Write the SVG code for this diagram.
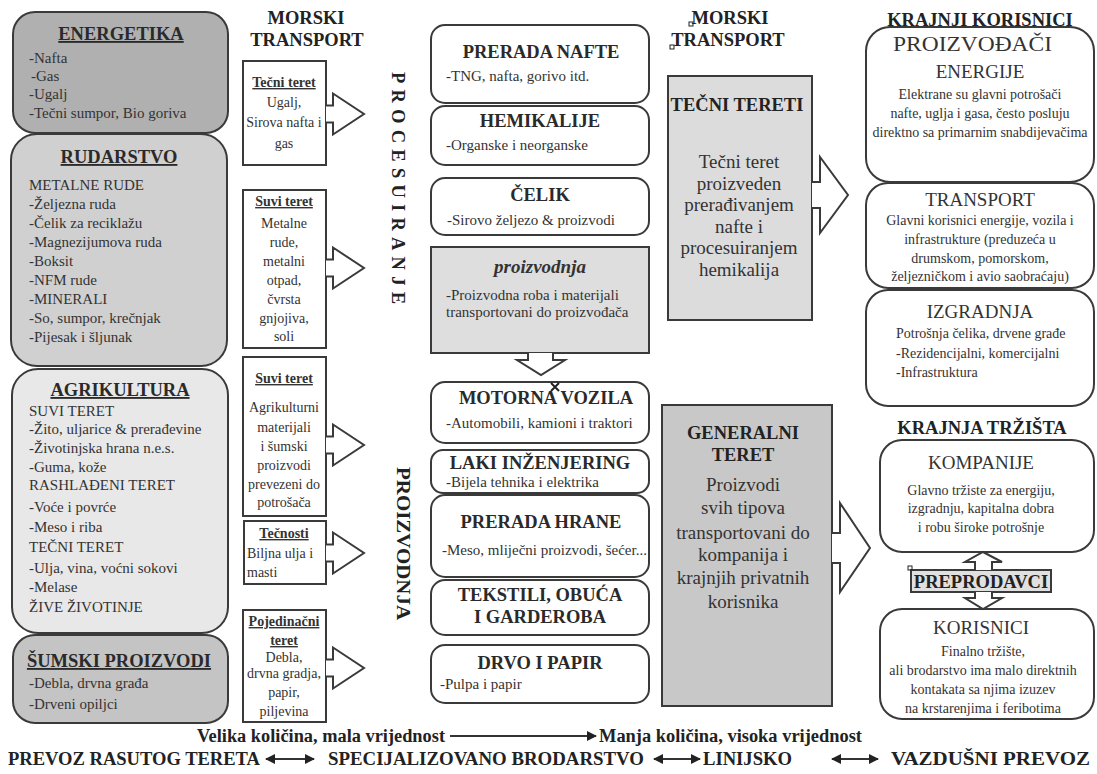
<svg xmlns="http://www.w3.org/2000/svg" width="1097" height="774" viewBox="0 0 1097 774" font-family="'Liberation Serif', 'DejaVu Serif', serif">
<style>
text{font-family:'Liberation Serif','DejaVu Serif',serif;fill:#333}
.box{stroke:#3a3a3a;stroke-width:2}
.t{font-weight:bold;font-size:18.5px;text-anchor:middle;fill:#2a2a2a}
.u{text-decoration:underline}
.i{font-size:15px}
.s{font-size:14px}
.c{text-anchor:middle}
.r{font-size:19px;text-anchor:middle}
.b{font-size:19px;text-anchor:middle}
.h{font-weight:bold;font-size:18.5px;fill:#222}
.arr{fill:#fff;stroke:#3a3a3a;stroke-width:2;stroke-linejoin:miter}
.ln{stroke:#333;stroke-width:2;fill:none}
</style>
<defs>
<path id="a1" d="M0,-8.5 H7 V-20.5 L38,0 L7,20.5 V8.5 H0"/>
<marker id="mh" viewBox="0 0 10 10" refX="9" refY="5" markerWidth="5" markerHeight="5" orient="auto-start-reverse"><path d="M0,0 L10,5 L0,10 z" fill="#222"/></marker>
</defs>
<rect width="1097" height="774" fill="#fff"/>

<g id="energetika">
<rect class="box" x="13" y="12" width="215" height="121" rx="22" fill="#b0b0b0"/>
<text class="t u" x="121" y="40">ENERGETIKA</text>
<text class="i" x="29" y="63">-Nafta</text>
<text class="i" x="31" y="81">-Gas</text>
<text class="i" x="29" y="99">-Ugalj</text>
<text class="i" x="29" y="118">-Tečni sumpor, Bio goriva</text>
</g>
<g id="rudarstvo">
<rect class="box" x="11" y="134" width="216" height="232" rx="26" fill="#d0d0d0"/>
<text class="t u" x="119" y="163">RUDARSTVO</text>
<text class="i" x="29" y="190">METALNE RUDE</text>
<text class="i" x="29" y="209">-Željezna ruda</text>
<text class="i" x="29" y="228">-Čelik za reciklažu</text>
<text class="i" x="29" y="247">-Magnezijumova ruda</text>
<text class="i" x="29" y="266">-Boksit</text>
<text class="i" x="29" y="285">-NFM rude</text>
<text class="i" x="29" y="304">-MINERALI</text>
<text class="i" x="29" y="323">-So, sumpor, krečnjak</text>
<text class="i" x="29" y="342">-Pijesak i šljunak</text>
</g>
<g id="agrikultura">
<rect class="box" x="12" y="369" width="216" height="264" rx="26" fill="#e8e8e8"/>
<text class="t u" x="120" y="396">AGRIKULTURA</text>
<text class="i" x="29" y="416">SUVI TERET</text>
<text class="i" x="29" y="434">-Žito, uljarice &amp; prerađevine</text>
<text class="i" x="29" y="453">-Životinjska hrana n.e.s.</text>
<text class="i" x="29" y="472">-Guma, kože</text>
<text class="i" x="29" y="490">RASHLAĐENI TERET</text>
<text class="i" x="29" y="512">-Voće i povrće</text>
<text class="i" x="29" y="532">-Meso i riba</text>
<text class="i" x="29" y="552">TEČNI TERET</text>
<text class="i" x="29" y="573">-Ulja, vina, voćni sokovi</text>
<text class="i" x="29" y="592">-Melase</text>
<text class="i" x="29" y="612">ŽIVE ŽIVOTINJE</text>
</g>
<g id="sumski">
<rect class="box" x="13" y="635" width="215" height="88" rx="22" fill="#c4c4c4"/>
<text class="t u" x="119" y="667">ŠUMSKI PROIZVODI</text>
<text class="i" x="29" y="688">-Debla, drvna građa</text>
<text class="i" x="29" y="709">-Drveni opiljci</text>
</g>

<text class="h" x="306" y="24" text-anchor="middle">MORSKI</text>
<text class="h" x="307" y="46" text-anchor="middle">TRANSPORT</text>

<g id="mt1">
<rect class="box" x="243" y="61" width="83" height="104" fill="#fff"/>
<text class="s c u" x="284" y="87" font-weight="bold" fill="#222">Tečni teret</text>
<text class="s c" x="284" y="107">Ugalj,</text>
<text class="s c" x="284" y="127">Sirova nafta i</text>
<text class="s c" x="284" y="148">gas</text>
</g>
<g id="mt2">
<rect class="box" x="243" y="190" width="83" height="158" fill="#fff"/>
<text class="s c u" x="284" y="206" font-weight="bold" fill="#222">Suvi teret</text>
<text class="s c" x="284" y="228">Metalne</text>
<text class="s c" x="284" y="247">rude,</text>
<text class="s c" x="284" y="266">metalni</text>
<text class="s c" x="284" y="285">otpad,</text>
<text class="s c" x="284" y="304">čvrsta</text>
<text class="s c" x="284" y="323">gnjojiva,</text>
<text class="s c" x="284" y="341">soli</text>
</g>
<g id="mt3">
<rect class="box" x="243" y="357" width="83" height="159" fill="#fff"/>
<text class="s c u" x="284" y="383" font-weight="bold" fill="#222">Suvi teret</text>
<text class="s c" x="284" y="412">Agrikulturni</text>
<text class="s c" x="284" y="432">materijali</text>
<text class="s c" x="284" y="451">i šumski</text>
<text class="s c" x="284" y="470">proizvodi</text>
<text class="s c" x="284" y="489">prevezeni do</text>
<text class="s c" x="284" y="507">potrošača</text>
</g>
<g id="mt4">
<rect class="box" x="244" y="521" width="82" height="63" fill="#fff"/>
<text class="s c u" x="284" y="538" font-weight="bold" fill="#222">Tečnosti</text>
<text class="s" x="247" y="558">Biljna ulja i</text>
<text class="s" x="247" y="577">masti</text>
</g>
<g id="mt5">
<rect class="box" x="243" y="610" width="83" height="112" fill="#fff"/>
<text class="s c u" x="284" y="626" font-weight="bold" fill="#222" font-size="13.5">Pojedinačni</text>
<text class="s c u" x="284" y="645" font-weight="bold" fill="#222" font-size="13.5">teret</text>
<text class="s c" x="284" y="662">Debla,</text>
<text class="s c" x="284" y="678" font-size="12.5">drvna gradja,</text>
<text class="s c" x="284" y="697">papir,</text>
<text class="s c" x="284" y="716">piljevina</text>
</g>

<text class="h" transform="translate(392,72) rotate(90)" font-size="16" textLength="232" lengthAdjust="spacing">PROCESUIRANJE</text>
<text class="h" transform="translate(397,467) rotate(90)" font-size="17" textLength="153" lengthAdjust="spacingAndGlyphs">PROIZVODNJA</text>

<g id="prerada-nafte">
<rect class="box" x="431" y="25" width="218" height="78" rx="14" fill="#fff"/>
<text class="t" x="541" y="58">PRERADA NAFTE</text>
<text class="i" x="446" y="81">-TNG, nafta, gorivo itd.</text>
</g>
<g id="hemikalije">
<rect class="box" x="431" y="106" width="218" height="59" rx="14" fill="#fff"/>
<text class="t" x="540" y="127">HEMIKALIJE</text>
<text class="i" x="446" y="150">-Organske i neorganske</text>
</g>
<g id="celik">
<rect class="box" x="431" y="178" width="218" height="57" rx="14" fill="#fff"/>
<text class="t" x="540" y="201">ČELIK</text>
<text class="i" x="447" y="225">-Sirovo željezo &amp; proizvodi</text>
</g>
<g id="proizvodnja">
<rect class="box" x="431" y="247" width="218" height="106" fill="#dedede"/>
<text class="c" x="540" y="273" font-size="19" font-style="italic" font-weight="bold" fill="#222">proizvodnja</text>
<text class="i" x="446" y="300">-Proizvodna roba i materijali</text>
<text class="i" x="446" y="317">transportovani do proizvođača</text>
</g>
<g id="motorna-vozila">
<rect class="box" x="431" y="382" width="218" height="61" rx="14" fill="#fff"/>
<text class="t" x="546" y="404">MOTORNA VOZILA</text>
<text class="i" x="446" y="428">-Automobili, kamioni i traktori</text>
</g>
<g id="laki">
<rect class="box" x="431" y="450" width="218" height="43" rx="12" fill="#fff"/>
<text class="t" x="540" y="469">LAKI INŽENJERING</text>
<text class="i" x="446" y="487">-Bijela tehnika i elektrika</text>
</g>
<g id="prerada-hrane">
<rect class="box" x="431" y="495" width="218" height="82" rx="14" fill="#fff"/>
<text class="t" x="541" y="528">PRERADA HRANE</text>
<text class="i" x="442" y="555">-Meso, mliječni proizvodi, šećer...</text>
</g>
<g id="tekstili">
<rect class="box" x="431" y="580" width="218" height="55" rx="14" fill="#fff"/>
<text class="t" x="540" y="601">TEKSTILI, OBUĆA</text>
<text class="t" x="540" y="623">I GARDEROBA</text>
</g>
<g id="drvo">
<rect class="box" x="431" y="645" width="218" height="58" rx="14" fill="#fff"/>
<text class="t" x="540" y="669">DRVO I PAPIR</text>
<text class="i" x="440" y="689">-Pulpa i papir</text>
</g>

<text class="h" x="730" y="24" text-anchor="middle">MORSKI</text>
<text class="h" x="728" y="46" text-anchor="middle">TRANSPORT</text>

<g id="tecni-tereti">
<rect class="box" x="668" y="76" width="144" height="244" fill="#dcdcdc"/>
<text class="h" x="737" y="111" text-anchor="middle" font-size="19">TEČNI TERETI</text>
<text class="b" x="739" y="168">Tečni teret</text>
<text class="b" x="739" y="190">proizveden</text>
<text class="b" x="739" y="211">prerađivanjem</text>
<text class="b" x="739" y="233">nafte i</text>
<text class="b" x="739" y="254">procesuiranjem</text>
<text class="b" x="739" y="276">hemikalija</text>
</g>
<g id="generalni-teret">
<rect class="box" x="662" y="405" width="170" height="301" fill="#c8c8c8"/>
<text class="h" x="743" y="439" text-anchor="middle">GENERALNI</text>
<text class="h" x="743" y="461" text-anchor="middle">TERET</text>
<text class="b" x="743" y="491">Proizvodi</text>
<text class="b" x="743" y="514">svih tipova</text>
<text class="b" x="743" y="539">transportovani do</text>
<text class="b" x="743" y="561">kompanija i</text>
<text class="b" x="743" y="584">krajnjih privatnih</text>
<text class="b" x="743" y="608">korisnika</text>
</g>

<text class="h" x="980" y="26" text-anchor="middle">KRAJNJI KORISNICI</text>
<g id="proizvodjaci">
<rect class="box" x="866" y="27" width="228" height="155" rx="24" fill="#fff"/>
<text x="893" y="51" font-size="21" textLength="159" lengthAdjust="spacingAndGlyphs">PROIZVOĐAČI</text>
<text class="r" x="980" y="78">ENERGIJE</text>
<text class="s c" x="980" y="99" font-size="14.5">Elektrane su glavni potrošači</text>
<text class="s c" x="980" y="118" font-size="14.5">nafte, uglja i gasa, često posluju</text>
<text class="s c" x="980" y="137" font-size="14.5">direktno sa primarnim snabdijevačima</text>
</g>
<g id="transport">
<rect class="box" x="866" y="183" width="228" height="105" rx="22" fill="#fff"/>
<text class="r" x="980" y="206">TRANSPORT</text>
<text class="s c" x="980" y="225">Glavni korisnici energije, vozila i</text>
<text class="s c" x="980" y="244">infrastrukture (preduzeća u</text>
<text class="s c" x="980" y="263">drumskom, pomorskom,</text>
<text class="s c" x="980" y="281">željezničkom i avio saobraćaju)</text>
</g>
<g id="izgradnja">
<rect class="box" x="866" y="290" width="228" height="116" rx="22" fill="#fff"/>
<text class="r" x="980" y="318">IZGRADNJA</text>
<text class="s" x="896" y="338">Potrošnja čelika, drvene građe</text>
<text class="s" x="896" y="358">-Rezidencijalni, komercijalni</text>
<text class="s" x="896" y="377">-Infrastruktura</text>
</g>
<text class="h" x="982" y="434" text-anchor="middle">KRAJNJA TRŽIŠTA</text>
<g id="kompanije">
<rect class="box" x="880" y="440" width="214" height="112" rx="22" fill="#fff"/>
<text class="r" x="981" y="469">KOMPANIJE</text>
<text class="s c" x="981" y="495">Glavno tržiste za energiju,</text>
<text class="s c" x="981" y="513">izgradnju, kapitalna dobra</text>
<text class="s c" x="981" y="532">i robu široke potrošnje</text>
</g>
<g id="preprodavci">
<rect class="box" x="911" y="570" width="140" height="22" fill="#e0e0e0"/>
<text class="h" x="981" y="588" text-anchor="middle" font-size="19">PREPRODAVCI</text>
</g>
<g id="korisnici">
<rect class="box" x="880" y="609" width="214" height="110" rx="22" fill="#fff"/>
<text class="r" x="981" y="634">KORISNICI</text>
<text class="s c" x="983" y="656">Finalno tržište,</text>
<text class="s c" x="983" y="675">ali brodarstvo ima malo direktnih</text>
<text class="s c" x="983" y="694">kontakata sa njima izuzev</text>
<text class="s c" x="983" y="713">na krstarenjima i feribotima</text>
</g>

<g id="connectors">
<use href="#a1" class="arr" transform="translate(326,114)"/>
<use href="#a1" class="arr" transform="translate(326,268)"/>
<use href="#a1" class="arr" transform="translate(326,445)"/>
<use href="#a1" class="arr" transform="translate(326,553)"/>
<use href="#a1" class="arr" transform="translate(326,668)"/>
<path class="arr" d="M528,353 V360 H517 L541,375 L565,360 H553 V353"/>
<path class="arr" d="M812,182 H820 V157 L848,195 L820,233 V208 H812"/>
<path class="arr" d="M832,533 H840 V503 L870,548 L840,592 V563 H832"/>
<path class="arr" d="M975,570 V562 H965 L983,552 L1002,562 H992 V570"/>
<path class="arr" d="M975,592 V598 H965 L983,609 L1002,598 H992 V592"/>
<line class="ln" x1="450" y1="736" x2="596" y2="736" marker-end="url(#mh)"/>
<line class="ln" x1="266" y1="759" x2="314" y2="759" marker-start="url(#mh)" marker-end="url(#mh)"/>
<line class="ln" x1="654" y1="759" x2="700" y2="759" marker-start="url(#mh)" marker-end="url(#mh)"/>
<line class="ln" x1="832" y1="759" x2="878" y2="759" marker-start="url(#mh)" marker-end="url(#mh)"/>
</g>

<text class="h" x="197" y="742" textLength="248" lengthAdjust="spacingAndGlyphs">Velika količina, mala vrijednost</text>
<text class="h" x="599" y="742" textLength="263" lengthAdjust="spacingAndGlyphs">Manja količina, visoka vrijednost</text>
<text class="h" x="8" y="765" textLength="252" lengthAdjust="spacingAndGlyphs">PREVOZ RASUTOG TERETA</text>
<text class="h" x="328" y="765" textLength="316" lengthAdjust="spacingAndGlyphs">SPECIJALIZOVANO BRODARSTVO</text>
<text class="h" x="703" y="765" textLength="89" lengthAdjust="spacingAndGlyphs">LINIJSKO</text>
<text class="h" x="891" y="765" textLength="199" lengthAdjust="spacingAndGlyphs">VAZDUŠNI PREVOZ</text>

<g fill="none" stroke="#222" stroke-width="1">
<rect x="689" y="22" width="4" height="4"/>
<rect x="670" y="45" width="4" height="4"/>
<rect x="908" y="566" width="4" height="4"/>
<path d="M551,383 L559,391 M559,383 L551,391" stroke-width="2"/>
</g>
</svg>
